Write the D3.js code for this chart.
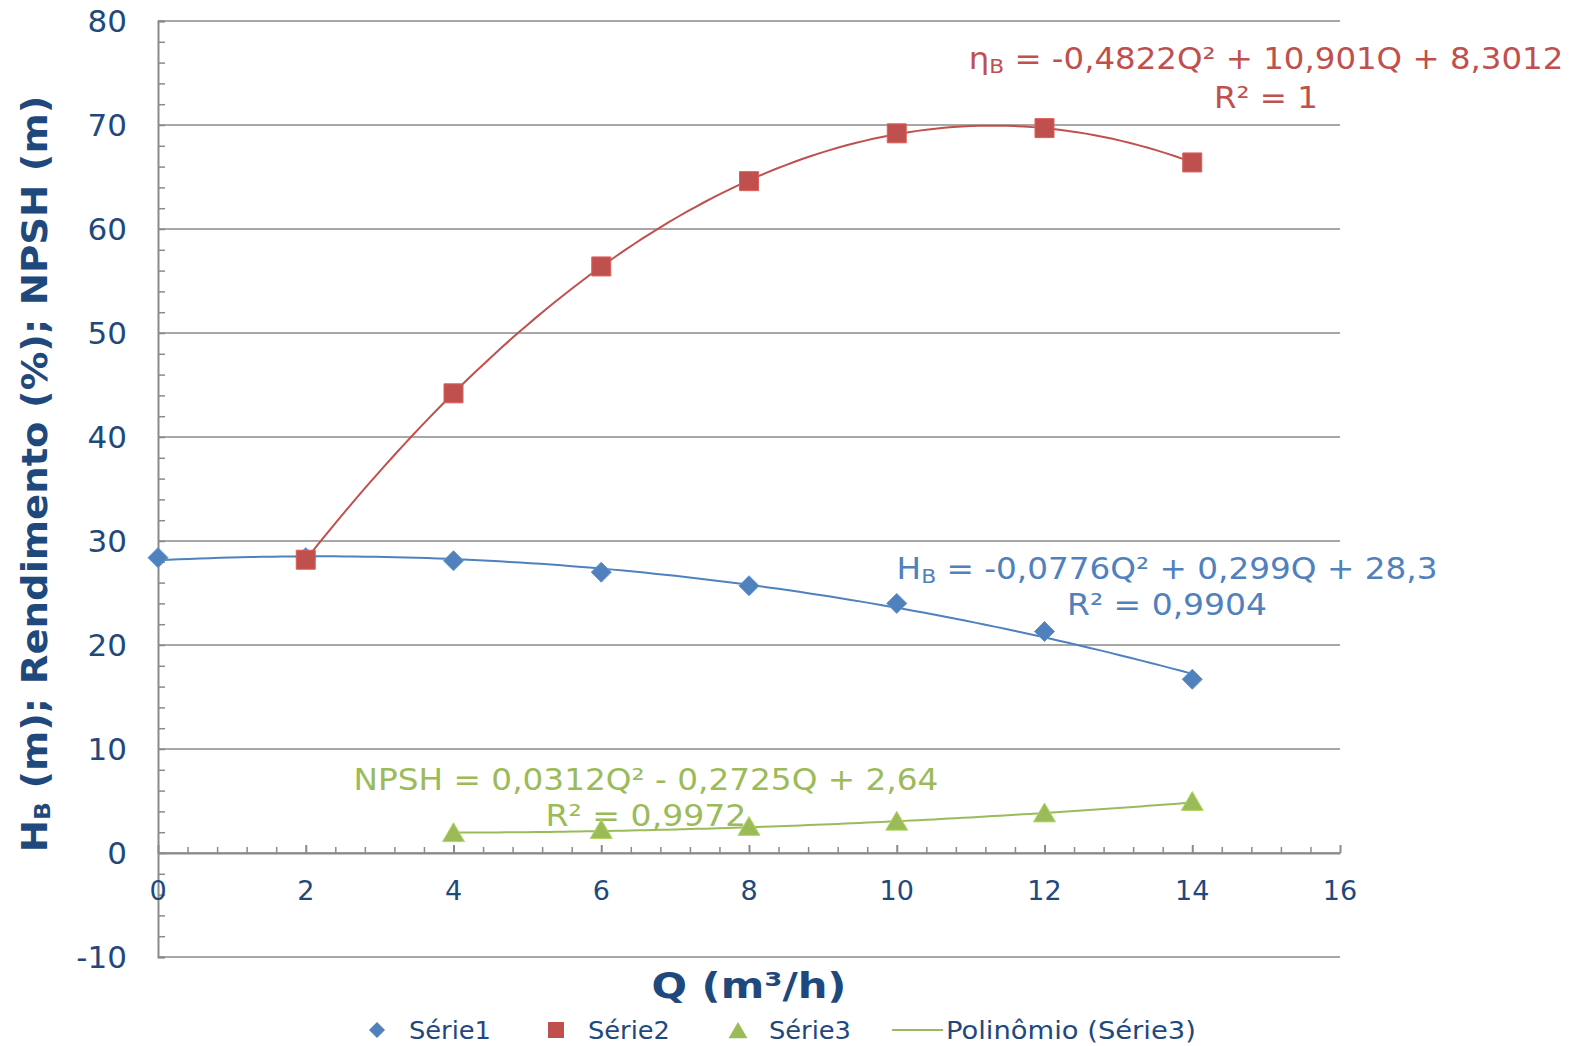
<!DOCTYPE html>
<html><head><meta charset="utf-8">
<script src="https://cdn.jsdelivr.net/npm/d3@7"></script>
<style>body{margin:0;background:#fff}svg{display:block}</style>
</head><body><svg id="c" width="1582" height="1046"></svg>
<script>
// ---------- data ----------
const serie1Q = [0, 2, 4, 6, 8, 10, 12, 14];
const serie1 = [28.4, 28.4, 28.1, 27.0, 25.7, 24.0, 21.3, 16.7];      // H_B (m)
const serie2Q = [2, 4, 6, 8, 10, 12, 14];
const serie2 = [28.2, 44.2, 56.4, 64.6, 69.2, 69.7, 66.4];            // Rendimento (%)
const serie3Q = [4, 6, 8, 10, 12, 14];
const serie3 = [1.9, 2.2, 2.5, 3.0, 3.8, 4.9];                        // NPSH (m)
const xTickValues = [0, 2, 4, 6, 8, 10, 12, 14, 16];
const yTickValues = [-10, 0, 10, 20, 30, 40, 50, 60, 70, 80];
const seriesNames = ["Série1", "Série2", "Série3", "Polinômio (Série3)"];
const eqRed = ["η", "B", " = -0,4822Q² + 10,901Q + 8,3012", "R² = 1"];
const eqBlue = ["H", "B", " = -0,0776Q² + 0,299Q + 28,3", "R² = 0,9904"];
const eqGreen = ["NPSH = 0,0312Q² - 0,2725Q + 2,64", "R² = 0,9972"];

const C = {blue:"#4F81BD", red:"#C0504D", green:"#9BBB59", text:"#1F497D", grid:"#8A8A8A"};
const FONT = "'DejaVu Sans', Verdana, sans-serif";

const svg = d3.select("#c");
const x = d3.scaleLinear().domain([0, 16]).range([158, 1340]);
const y = d3.scaleLinear().domain([-10, 80]).range([957, 21]);

// helper: text fitted to a target width
function fitText(parent, cx, cy, width, anchor, rotate, build, opts) {
  const g = parent.append("g").attr("transform", `translate(${cx},${cy}) rotate(${rotate||0})`);
  const t = g.append("text").attr("x", 0).attr("y", 0)
    .attr("text-anchor", anchor).attr("dominant-baseline", "central")
    .style("font-family", FONT).style("font-size", opts.size + "px")
    .style("font-weight", opts.weight || "normal").attr("fill", opts.fill);
  build(t);
  const w = t.node().getBBox().width;
  if (width && w > 0) t.attr("transform", `scale(${width / w},1)`);
  return t;
}

// ---------- grid ----------
svg.append("g").selectAll("line").data(yTickValues).join("line")
  .attr("x1", x(0)).attr("x2", x(16))
  .attr("y1", d => y(d)).attr("y2", d => y(d))
  .attr("stroke", C.grid).attr("stroke-width", 1.5);

// y axis
const yAxis = d3.axisRight(y).tickValues(d3.range(-10, 80.01, 2)).tickSize(7).tickFormat("");
const gy = svg.append("g").attr("transform", `translate(${x(0)},0)`).call(yAxis);
gy.select(".domain").attr("stroke", C.grid).attr("stroke-width", 2);
gy.selectAll(".tick line").attr("stroke", C.grid).attr("stroke-width", 1.5);

// x axis (at y=0) with ticks pointing up
const minorX = d3.range(0, 16.001, 0.4).filter(v => Math.abs(v / 2 - Math.round(v / 2)) > 1e-6);
const gxm = svg.append("g").attr("transform", `translate(0,${y(0)})`)
  .call(d3.axisTop(x).tickValues(minorX).tickSize(6).tickFormat("").tickSizeOuter(0));
gxm.select(".domain").remove();
gxm.selectAll(".tick line").attr("stroke", C.grid).attr("stroke-width", 1.5);
const gx = svg.append("g").attr("transform", `translate(0,${y(0)})`)
  .call(d3.axisTop(x).tickValues(xTickValues).tickSize(8).tickFormat("").tickSizeOuter(0));
gx.select(".domain").attr("stroke", C.grid).attr("stroke-width", 2);
gx.selectAll(".tick line").attr("stroke", C.grid).attr("stroke-width", 2);

// tick labels
svg.append("g").selectAll("text").data(yTickValues).join("text")
  .attr("x", 127).attr("y", d => y(d)).attr("text-anchor", "end").attr("dominant-baseline", "central")
  .style("font-family", FONT).style("font-size", "31px").attr("fill", C.text).text(d => d);
svg.append("g").selectAll("text").data(xTickValues).join("text")
  .attr("x", d => x(d)).attr("y", 890).attr("text-anchor", "middle").attr("dominant-baseline", "central")
  .style("font-family", FONT).style("font-size", "27px").attr("fill", C.text).text(d => d);

// axis titles
fitText(svg, 749, 986, 195, "middle", 0, t => t.text("Q (m³/h)"), {size: 36, weight: "bold", fill: C.text});
fitText(svg, 34, 474, 757, "middle", -90, t => {
  t.append("tspan").text("H");
  t.append("tspan").attr("dy", 8).style("font-size", "22px").text("B");
  t.append("tspan").attr("dy", -8).text(" (m); Rendimento (%); NPSH (m)");
}, {size: 36, weight: "bold", fill: C.text});

// ---------- trendlines (least squares quadratic fit of each series) ----------
function quadFit(xs, ys) {
  let s = [0,0,0,0,0], t = [0,0,0];
  xs.forEach((xv, i) => {
    for (let k = 0; k < 5; k++) s[k] += Math.pow(xv, k);
    for (let k = 0; k < 3; k++) t[k] += Math.pow(xv, k) * ys[i];
  });
  const A = [[s[0], s[1], s[2], t[0]], [s[1], s[2], s[3], t[1]], [s[2], s[3], s[4], t[2]]];
  for (let i = 0; i < 3; i++) {
    let p = i; for (let r = i + 1; r < 3; r++) if (Math.abs(A[r][i]) > Math.abs(A[p][i])) p = r;
    [A[i], A[p]] = [A[p], A[i]];
    for (let r = 0; r < 3; r++) if (r !== i) {
      const f = A[r][i] / A[i][i];
      for (let c = i; c < 4; c++) A[r][c] -= f * A[i][c];
    }
  }
  const c = A.map((row, i) => row[3] / row[i]);
  return q => c[0] + c[1] * q + c[2] * q * q;
}
function trend(xs, ys, color) {
  const f = quadFit(xs, ys);
  const lo = d3.min(xs), hi = d3.max(xs);
  const pts = d3.range(0, 101).map(i => lo + (hi - lo) * i / 100).map(q => [x(q), y(f(q))]);
  svg.append("path").attr("d", d3.line()(pts)).attr("fill", "none")
    .attr("stroke", color).attr("stroke-width", 2);
}

// equation labels
fitText(svg, 1266, 58, 595, "middle", 0, t => {
  t.append("tspan").text(eqRed[0]);
  t.append("tspan").attr("dy", 8).style("font-size", "20px").text(eqRed[1]);
  t.append("tspan").attr("dy", -8).text(eqRed[2]);
}, {size: 30, fill: C.red});
fitText(svg, 1266, 97, 104, "middle", 0, t => t.text(eqRed[3]), {size: 30, fill: C.red});
fitText(svg, 1167, 568, 541, "middle", 0, t => {
  t.append("tspan").text(eqBlue[0]);
  t.append("tspan").attr("dy", 8).style("font-size", "20px").text(eqBlue[1]);
  t.append("tspan").attr("dy", -8).text(eqBlue[2]);
}, {size: 30, fill: C.blue});
fitText(svg, 1167, 605, 200, "middle", 0, t => t.text(eqBlue[3]), {size: 30, fill: C.blue});
fitText(svg, 646, 779, 585, "middle", 0, t => t.text(eqGreen[0]), {size: 30, fill: C.green});
fitText(svg, 646, 816, 201, "middle", 0, t => t.text(eqGreen[1]), {size: 30, fill: C.green});

trend(serie1Q, serie1, C.blue);
trend(serie2Q, serie2, C.red);
trend(serie3Q, serie3, C.green);

// ---------- markers ----------
const diamond = r => `M0,${-r}L${r},0L0,${r}L${-r},0Z`;
const square = r => `M${-r},${-r}H${r}V${r}H${-r}Z`;
const triangle = r => `M0,${-r}L${r * 1.05},${r * 0.8}L${-r * 1.05},${r * 0.8}Z`;

function markers(xs, ys, shape, r, color) {
  svg.append("g").selectAll("path").data(xs).join("path")
    .attr("transform", (d, i) => `translate(${x(d)},${y(ys[i])})`)
    .attr("d", shape(r)).attr("fill", color)
    .attr("stroke", d3.color(color).brighter(0.4)).attr("stroke-width", 1);
}
markers(serie1Q, serie1, diamond, 10, C.blue);
markers(serie2Q, serie2, square, 9.5, C.red);
markers(serie3Q, serie3, triangle, 10.5, C.green);

// ---------- legend ----------
const ly = 1030;
const leg = svg.append("g");
leg.append("path").attr("transform", `translate(377,${ly})`).attr("d", diamond(8)).attr("fill", C.blue);
leg.append("path").attr("transform", `translate(556,${ly})`).attr("d", square(8)).attr("fill", C.red);
leg.append("path").attr("transform", `translate(738,${ly + 1})`).attr("d", triangle(9)).attr("fill", C.green);
leg.append("line").attr("x1", 892).attr("x2", 943).attr("y1", ly).attr("y2", ly)
  .attr("stroke", C.green).attr("stroke-width", 2);
const legX = [409, 588, 769, 946];
const legW = [82, 82, 82, 250];
seriesNames.forEach((nm, i) => {
  fitText(leg, legX[i], ly, legW[i], "start", 0, t => t.text(nm), {size: 25, fill: C.text});
});
</script>
</body></html>
